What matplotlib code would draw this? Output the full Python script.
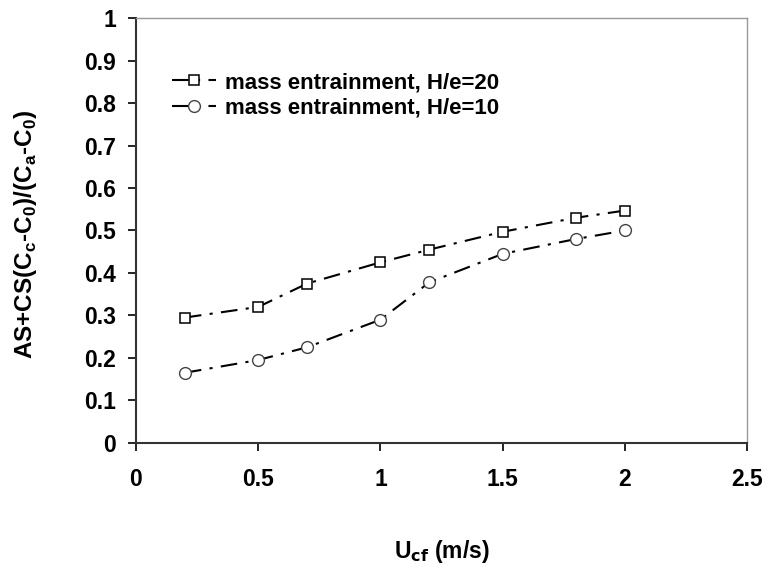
import matplotlib.pyplot as plt
import numpy as np

plt.rcParams['font.family'] = ['Liberation Sans', 'DejaVu Sans']
plt.rcParams['font.weight'] = 'bold'

u_cf = [0.2, 0.5, 0.7, 1.0, 1.2, 1.5, 1.8, 2.0]
he20 = [0.295, 0.32, 0.375, 0.425, 0.455, 0.497, 0.53, 0.547]
he10 = [0.165, 0.195, 0.225, 0.29, 0.378, 0.445, 0.48, 0.5]

fig = plt.figure(figsize=(7.68, 5.67), dpi=100)
ax = fig.add_axes([0.177, 0.219, 0.796, 0.749])

dash = (0, (8, 4, 1.5, 4))
ax.plot(u_cf, he20, color='black', lw=1.5, linestyle=dash, marker='s', ms=7,
        mfc='white', mec='black', mew=1.1, label='mass entrainment, H/e=20')
ax.plot(u_cf, he10, color='black', lw=1.5, linestyle=dash, marker='o', ms=8.5,
        mfc='white', mec='#444444', mew=1.0, label='mass entrainment, H/e=10')

ax.set_xlim(0, 2.5)
ax.set_ylim(0, 1)
ax.set_xticks(np.arange(0, 2.51, 0.5))
ax.set_xticklabels(['0', '0.5', '1', '1.5', '2', '2.5'])
ax.set_yticks(np.arange(0, 1.01, 0.1))
ax.set_yticklabels(['0', '0.1', '0.2', '0.3', '0.4', '0.5', '0.6', '0.7', '0.8', '0.9', '1'])
ax.tick_params(direction='out', length=6, width=1.2, labelsize=16.5)
ax.tick_params(axis='x', pad=12)
ax.tick_params(axis='y', pad=8.5)

for s in ['left', 'bottom']:
    ax.spines[s].set_linewidth(1.5)
    ax.spines[s].set_color('#333333')
for s in ['top', 'right']:
    ax.spines[s].set_linewidth(1.0)
    ax.spines[s].set_color('#999999')

ax.set_xlabel('U$_{\\mathbf{cf}}$ (m/s)', fontsize=16.5, fontweight='bold')
ax.xaxis.set_label_coords(0.5, -0.225)
ax.set_ylabel('AS+CS(C$_\\mathregular{c}$-C$_\\mathregular{0}$)/(C$_\\mathregular{a}$-C$_\\mathregular{0}$)',
              fontsize=17.5, fontweight='bold')
ax.yaxis.set_label_coords(-0.158, 0.49)

ax.legend(loc='upper left', bbox_to_anchor=(0.026, 0.92), frameon=False,
          fontsize=16, handlelength=2.0, handletextpad=0.4, labelspacing=0.2)

fig.savefig('out.png', dpi=100)
